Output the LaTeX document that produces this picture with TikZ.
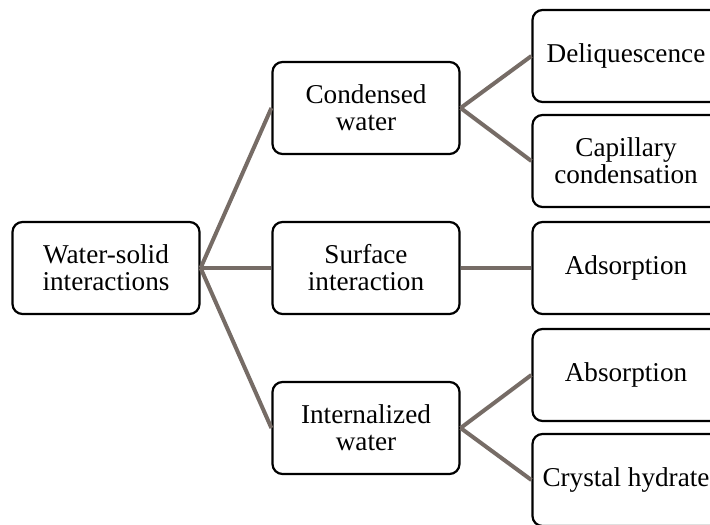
\documentclass[tikz,border=0pt]{standalone}
\usepackage{fontspec}
\setmainfont{Liberation Serif}
\usetikzlibrary{calc}
\usepackage{xcolor}
\definecolor{linkgray}{RGB}{118,108,102}

\begin{document}
\begin{tikzpicture}[node distance=130pt,
        box/.style={draw, rectangle, rounded corners=5pt, line width=1.1pt, minimum width=93.5pt, minimum height=46pt, align=center, font=\fontsize{13.6}{13.5}\selectfont},
        link/.style={draw=linkgray, line width=2pt}]
        \clip (-53pt,-128pt) rectangle (302pt,134pt);
        \node (root) [box] {Water-solid\\interactions};
        \node (surf) [box, right of=root] {Surface\\interaction};
        \node (cond) [box, above of=surf, node distance=80pt] {Condensed\\water};
        \node (intw) [box, below of=surf, node distance=80pt] {Internalized\\water};
        \node (adso) [box, right of=surf] {Adsorption};
        \node (deli) [box] at ($(cond)+(130pt,26pt)$) {Deliquescence};
        \node (capi) [box] at ($(cond)+(130pt,-26.5pt)$) {Capillary\\condensation};
        \node (abso) [box] at ($(intw)+(130pt,26.5pt)$) {Absorption};
        \node (crys) [box] at ($(intw)+(130pt,-26pt)$) {Crystal hydrate};

        \draw[link] (root.east) -- (cond.west);
        \draw[link] (root.east) -- (surf.west);
        \draw[link] (root.east) -- (intw.west);
        \draw[link] (cond.east) -- (deli.west);
        \draw[link] (cond.east) -- (capi.west);
        \draw[link] (surf.east) -- (adso.west);
        \draw[link] (intw.east) -- (abso.west);
        \draw[link] (intw.east) -- (crys.west);
    \end{tikzpicture}
\end{document}
